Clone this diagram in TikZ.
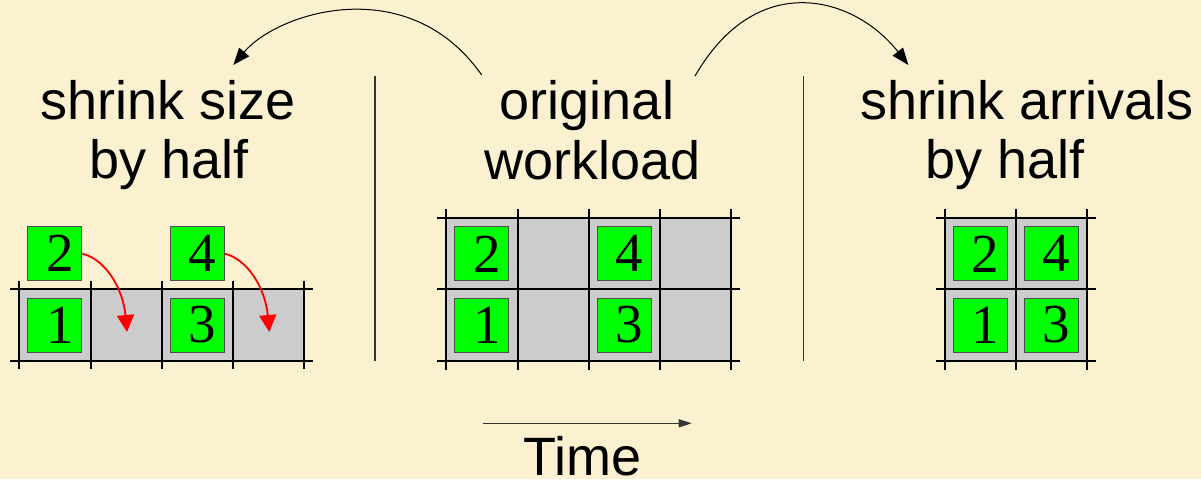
\documentclass[tikz,border=0pt]{standalone}
\usepackage{fontspec}
\setmainfont{Liberation Sans}
\newfontfamily\digfont{Liberation Serif}
\usetikzlibrary{arrows.meta,calc}
\definecolor{bg}{RGB}{251,240,207}
\definecolor{cellgray}{RGB}{204,204,204}
\definecolor{boxgreen}{RGB}{0,255,0}
\begin{document}
\begin{tikzpicture}[x=1pt,y=-1pt,
  lbl/.style={anchor=base,inner sep=0pt,font=\fontsize{54}{60}\selectfont},
  gbox/.style={draw=black!70,line width=1pt,fill=boxgreen,minimum size=54pt,inner sep=0pt,font=\digfont\fontsize{55}{60}\selectfont},
  gridline/.style={line width=2pt,black},
  sepline/.style={line width=1.3pt,black!80},
  cell/.style={fill=cellgray},
  redarrow/.style={red,line width=1.8pt,-{Triangle[length=17pt,width=17pt]}},
  bendarrow/.style={black,line width=1pt,-{Triangle[length=17pt,width=13pt]}},
  timearrow/.style={black!80,line width=1.2pt,-{Triangle[length=13pt,width=8pt]}}
]
\fill[bg] (0,0) rectangle (1201,479);
\useasboundingbox (0,0) rectangle (1201,479);

% ---------- labels ----------
\node[lbl] (ls1) at (168,119.3) {shrink size};
\node[lbl] (ls2) at (169,178.5) {by half};
\node[lbl] (mo1) at (587,119.3) {original};
\node[lbl] (mo2) at (593,179.5) {workload};
\node[lbl] (ra1) at (1027,119.3) {shrink arrivals};
\node[lbl] (ra2) at (1005,178.5) {by half};
\node[lbl] (time) at (582.5,475.4) {Time};

% ---------- separators ----------
\draw[sepline] (375,76) -- (375,361);
\draw[sepline] (803.3,76) -- (803.3,361);

% ---------- left grid ----------
\fill[cell] (19,289.3) rectangle (304,360.7);
\foreach \y in {289.3,360.7} \draw[gridline] (10,\y) -- (313,\y);
\foreach \x in {19,90.7,162,232.7,304} \draw[gridline] (\x,280.7) -- (\x,368.5);

% ---------- middle grid ----------
\fill[cell] (446,218.3) rectangle (731.3,360.7);
\foreach \y in {218.3,289.3,360.7} \draw[gridline] (437,\y) -- (740,\y);
\foreach \x in {446,517.7,588.7,660,731.3} \draw[gridline] (\x,209) -- (\x,369.5);

% ---------- right grid ----------
\fill[cell] (945,218.3) rectangle (1087,360.7);
\foreach \y in {218.3,289.3,360.7} \draw[gridline] (936,\y) -- (1096,\y);
\foreach \x in {945,1016,1087} \draw[gridline] (\x,209) -- (\x,369.5);

% ---------- green boxes ----------
\node[gbox] (l1) at (54.8,325) {\hspace*{10pt}1};
\node[gbox] (l2) at (54.8,253.7) {\hspace*{10pt}2};
\node[gbox] (l3) at (197.3,325) {\hspace*{10pt}3};
\node[gbox] (l4) at (197.3,253.7) {\hspace*{10pt}4};

\node[gbox] (m1) at (481.9,325) {\hspace*{10pt}1};
\node[gbox] (m2) at (481.9,253.8) {\hspace*{10pt}2};
\node[gbox] (m3) at (624.4,325) {\hspace*{10pt}3};
\node[gbox] (m4) at (624.4,253.8) {\hspace*{10pt}4};

\node[gbox] (r1) at (980.5,325) {\hspace*{10pt}1};
\node[gbox] (r2) at (980.5,253.8) {\hspace*{10pt}2};
\node[gbox] (r3) at (1051.5,325) {\hspace*{10pt}3};
\node[gbox] (r4) at (1051.5,253.8) {\hspace*{10pt}4};

% ---------- red arrows ----------
\coordinate (t2) at (127,332);
\coordinate (t4) at (269.3,332);
\draw[redarrow] (l2.east) .. controls (105,259) and (123,288) .. (t2);
\draw[redarrow] (l4.east) .. controls (247.3,259) and (265.3,288) .. (t4);

% ---------- bend arrows ----------
\coordinate (aL0) at (481.7,75);
\coordinate (aL1) at (233.3,65);
\coordinate (aR0) at (695,76);
\coordinate (aR1) at (908.3,65);
\draw[bendarrow] (aL0) .. controls (408.5,-29.5) and (277.6,12.2) .. (aL1);
\draw[bendarrow] (aR0) .. controls (757.4,-32.1) and (854.9,-3.3) .. (aR1);

% ---------- time arrow ----------
\coordinate (ta0) at (482.7,423.3);
\coordinate (ta1) at (691.7,423.3);
\draw[timearrow] (ta0) -- (ta1);
\end{tikzpicture}
\end{document}
